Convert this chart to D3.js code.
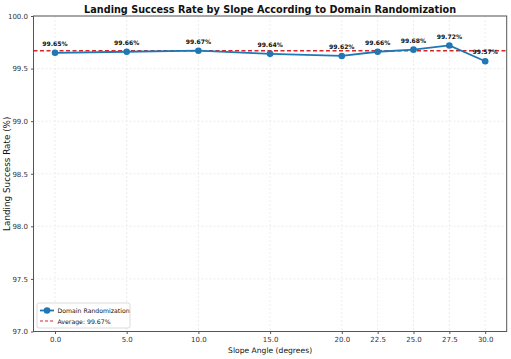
<!DOCTYPE html>
<html><head><meta charset="utf-8">
<script src="https://cdn.jsdelivr.net/npm/d3@7"></script>
<style>body{margin:0;background:#fff}svg{display:block}text{font-family:"DejaVu Sans",sans-serif}</style>
</head><body><svg id="c" width="511" height="359"></svg>
<script>
const slopes = [0, 5, 10, 15, 20, 22.5, 25, 27.5, 30];
const rates = [99.65, 99.66, 99.67, 99.64, 99.62, 99.66, 99.68, 99.72, 99.57];
const average = 99.67;
const yTicks = [97.0, 97.5, 98.0, 98.5, 99.0, 99.5, 100.0];
const title = "Landing Success Rate by Slope According to Domain Randomization";
const xLabel = "Slope Angle (degrees)";
const yLabel = "Landing Success Rate (%)";
const seriesName = "Domain Randomization";

const svg = d3.select("#c");
const m = {l: 33.5, r: 506.7, t: 16, b: 331.5};
const x = d3.scaleLinear().domain([-1.5, 31.5]).range([m.l, m.r]);
const y = d3.scaleLinear().domain([97, 100]).range([m.b, m.t]);
const blue = "#1f77b4";

// grid
const g = svg.append("g");
g.selectAll(".vg").data(slopes).enter().append("line")
  .attr("x1", d => x(d)).attr("x2", d => x(d)).attr("y1", m.t).attr("y2", m.b)
  .attr("stroke", "#e0e0e0").attr("stroke-width", 0.6).attr("stroke-dasharray", "2,2");
g.selectAll(".hg").data(yTicks).enter().append("line")
  .attr("x1", m.l).attr("x2", m.r).attr("y1", d => y(d)).attr("y2", d => y(d))
  .attr("stroke", "#e0e0e0").attr("stroke-width", 0.6).attr("stroke-dasharray", "2,2");

// axes
const xa = svg.append("g").attr("transform", `translate(0,${m.b})`)
  .call(d3.axisBottom(x).tickValues(slopes).tickFormat(d3.format(".1f")).tickSize(2.5).tickPadding(3));
const ya = svg.append("g").attr("transform", `translate(${m.l},0)`)
  .call(d3.axisLeft(y).tickValues(yTicks).tickFormat(d3.format(".1f")).tickSize(2.5).tickPadding(3));
[xa, ya].forEach(a => {
  a.selectAll("text").attr("font-size", 7).attr("fill", "#333").attr("font-family", "DejaVu Sans");
  a.selectAll("line").attr("stroke", "#555");
  a.select(".domain").remove();
});
// frame
svg.append("rect").attr("x", m.l).attr("y", m.t).attr("width", m.r - m.l).attr("height", m.b - m.t)
  .attr("fill", "none").attr("stroke", "#555").attr("stroke-width", 1);

// average line
svg.append("line").attr("x1", m.l).attr("x2", m.r).attr("y1", y(average)).attr("y2", y(average))
  .attr("stroke", "#d62728").attr("stroke-width", 1.5).attr("stroke-dasharray", "4,2.5");

// data line
const pts = slopes.map((s, i) => [s, rates[i]]);
svg.append("path").datum(pts)
  .attr("d", d3.line().x(d => x(d[0])).y(d => y(d[1])))
  .attr("fill", "none").attr("stroke", blue).attr("stroke-width", 1.8);
svg.selectAll(".pt").data(pts).enter().append("circle")
  .attr("cx", d => x(d[0])).attr("cy", d => y(d[1])).attr("r", 3.3).attr("fill", blue);
svg.selectAll(".lab").data(pts).enter().append("text")
  .attr("x", d => x(d[0])).attr("y", d => y(d[1]) - 6.8)
  .attr("text-anchor", "middle").attr("font-size", 6.1).attr("font-weight", "bold").attr("fill", "#111")
  .text(d => d[1].toFixed(2) + "%");

// title & labels
svg.append("text").attr("x", (m.l + m.r) / 2).attr("y", 12.5).attr("text-anchor", "middle")
  .attr("font-size", 9.7).attr("font-weight", "bold").attr("fill", "#111").text(title);
svg.append("text").attr("x", (m.l + m.r) / 2).attr("y", 353).attr("text-anchor", "middle")
  .attr("font-size", 7.6).attr("fill", "#111").text(xLabel);
svg.append("text").attr("transform", `translate(9.5,${(m.t + m.b) / 2}) rotate(-90)`).attr("text-anchor", "middle")
  .attr("font-size", 8.8).attr("fill", "#111").text(yLabel);

// legend
const lg = svg.append("g").attr("transform", "translate(37,303)");
lg.append("rect").attr("width", 93).attr("height", 25).attr("rx", 2).attr("fill", "#fff").attr("fill-opacity", 0.85)
  .attr("stroke", "#ccc").attr("stroke-width", 0.7);
lg.append("line").attr("x1", 3).attr("x2", 17).attr("y1", 7.5).attr("y2", 7.5).attr("stroke", blue).attr("stroke-width", 1.8);
lg.append("circle").attr("cx", 10).attr("cy", 7.5).attr("r", 3.3).attr("fill", blue);
lg.append("text").attr("x", 20.5).attr("y", 10).attr("font-size", 6.2).attr("fill", "#111").text(seriesName);
lg.append("line").attr("x1", 3).attr("x2", 17).attr("y1", 18).attr("y2", 18).attr("stroke", "#d62728").attr("stroke-width", 1.2).attr("stroke-dasharray", "3,2");
lg.append("text").attr("x", 20.5).attr("y", 20.5).attr("font-size", 6.2).attr("fill", "#111").text("Average: " + average.toFixed(2) + "%");
</script></body></html>
